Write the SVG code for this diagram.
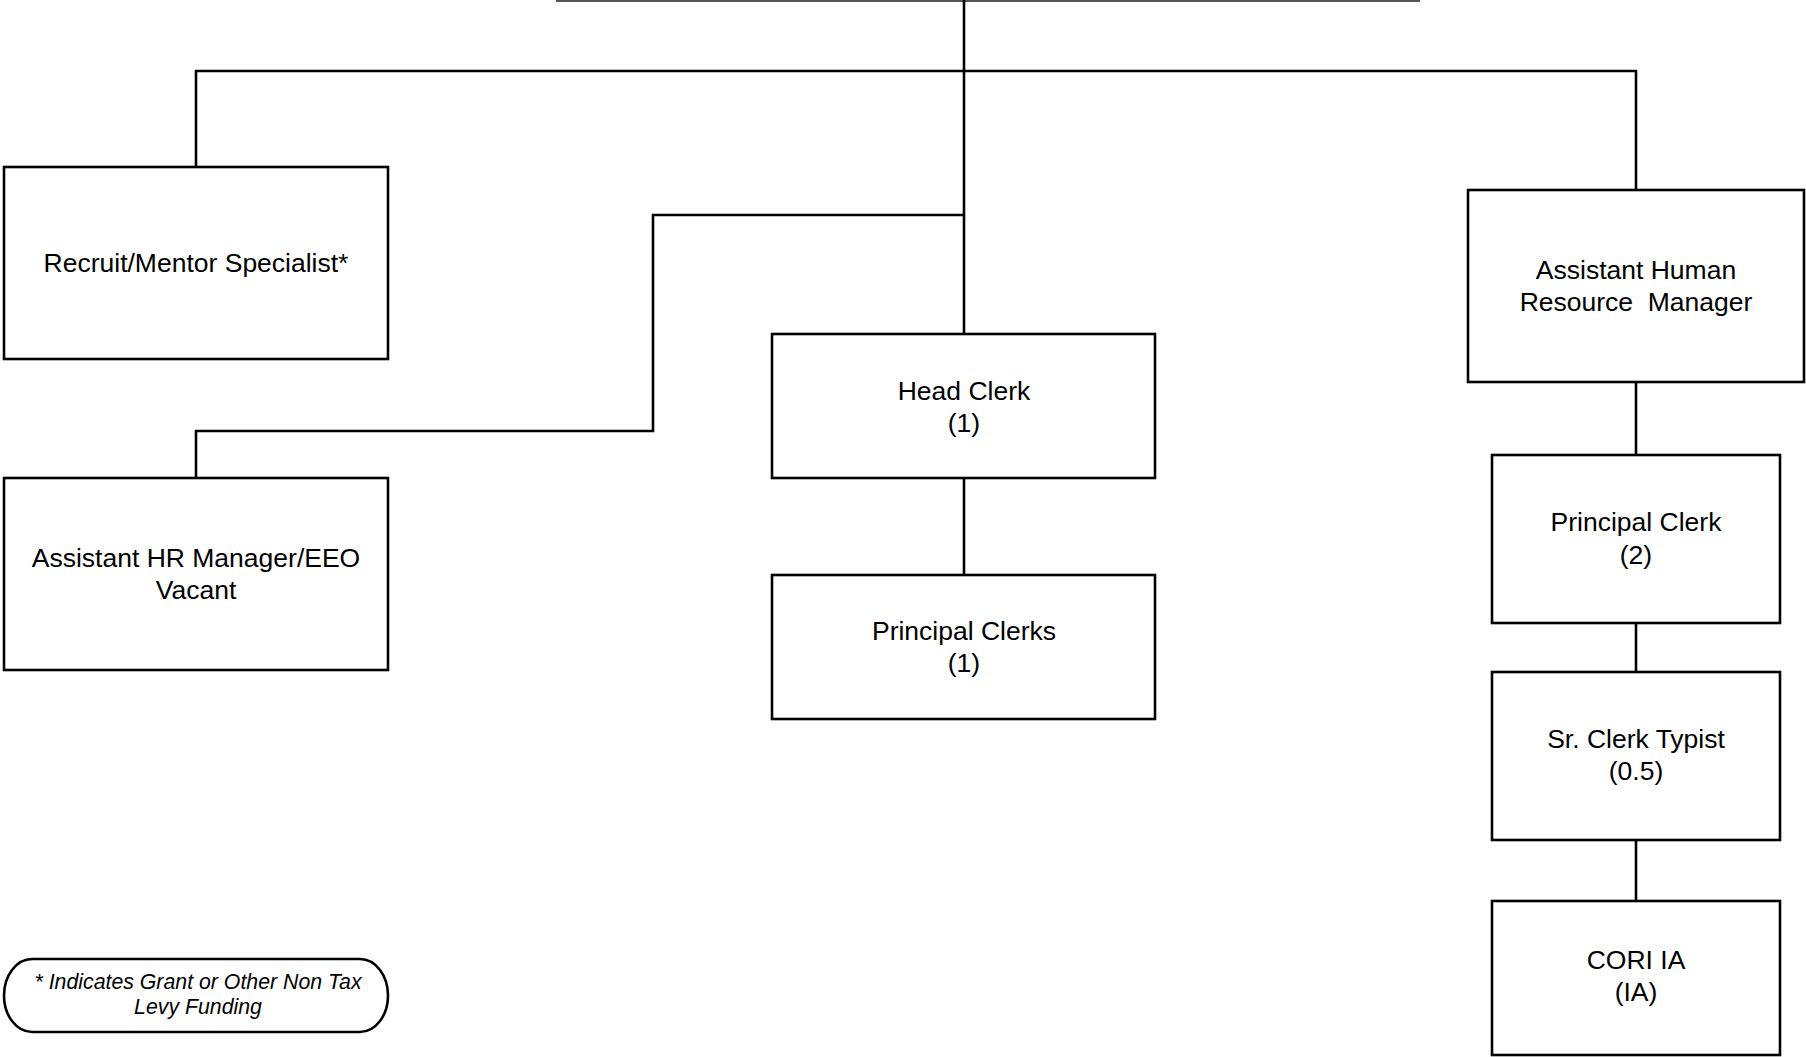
<svg xmlns="http://www.w3.org/2000/svg" width="1806" height="1057" viewBox="0 0 1806 1057">
  <style>
    .box { fill: #ffffff; stroke: #000000; stroke-width: 2.6; }
    .wire { fill: none; stroke: #000000; stroke-width: 2.6; }
    .lbl { font-family: "Liberation Sans", Arial, sans-serif; font-size: 26.5px; fill: #000000; text-anchor: middle; white-space: pre; }
    .note { font-family: "Liberation Sans", Arial, sans-serif; font-size: 21.3px; font-style: italic; fill: #000000; text-anchor: middle; }
  </style>
  <rect x="0" y="0" width="1806" height="1057" fill="#ffffff"/>

  <!-- reporting lines -->
  <g id="connectors">
    <line x1="556" y1="1" x2="1420" y2="1" stroke="#555555" stroke-width="2"/>
    <line class="wire" x1="964" y1="0" x2="964" y2="334"/>
    <polyline class="wire" points="196,167 196,71 1636,71 1636,190"/>
    <polyline class="wire" points="964,215 653,215 653,431 196,431 196,478"/>
    <line class="wire" x1="964" y1="478" x2="964" y2="575"/>
    <line class="wire" x1="1636" y1="382" x2="1636" y2="455"/>
    <line class="wire" x1="1636" y1="623" x2="1636" y2="672"/>
    <line class="wire" x1="1636" y1="840" x2="1636" y2="901"/>
  </g>

  <g id="recruit-mentor">
    <rect class="box" x="4" y="167" width="384" height="192"/>
    <text class="lbl" x="196" y="272">Recruit/Mentor Specialist*</text>
  </g>

  <g id="asst-hr-eeo">
    <rect class="box" x="4" y="478" width="384" height="192"/>
    <text class="lbl" x="196" y="567">Assistant HR Manager/EEO</text>
    <text class="lbl" x="196" y="599">Vacant</text>
  </g>

  <g id="head-clerk">
    <rect class="box" x="772" y="334" width="383" height="144"/>
    <text class="lbl" x="964" y="400">Head Clerk</text>
    <text class="lbl" x="964" y="432">(1)</text>
  </g>

  <g id="principal-clerks">
    <rect class="box" x="772" y="575" width="383" height="144"/>
    <text class="lbl" x="964" y="639.5">Principal Clerks</text>
    <text class="lbl" x="964" y="671.5">(1)</text>
  </g>

  <g id="asst-hrm">
    <rect class="box" x="1468" y="190" width="336" height="192"/>
    <text class="lbl" x="1636" y="279">Assistant Human</text>
    <text class="lbl" x="1636" y="311">Resource  Manager</text>
  </g>

  <g id="principal-clerk-2">
    <rect class="box" x="1492" y="455" width="288" height="168"/>
    <text class="lbl" x="1636" y="531">Principal Clerk</text>
    <text class="lbl" x="1636" y="563.5">(2)</text>
  </g>

  <g id="sr-clerk-typist">
    <rect class="box" x="1492" y="672" width="288" height="168"/>
    <text class="lbl" x="1636" y="747.5">Sr. Clerk Typist</text>
    <text class="lbl" x="1636" y="780">(0.5)</text>
  </g>

  <g id="cori-ia">
    <rect class="box" x="1492" y="901" width="288" height="154"/>
    <text class="lbl" x="1636" y="969">CORI IA</text>
    <text class="lbl" x="1636" y="1001">(IA)</text>
  </g>

  <g id="funding-note">
    <rect class="box" x="4" y="959" width="384" height="73" rx="28" ry="36.5"/>
    <text class="note" x="198" y="988.5">* Indicates Grant or Other Non Tax</text>
    <text class="note" x="198" y="1014">Levy Funding</text>
  </g>
</svg>
